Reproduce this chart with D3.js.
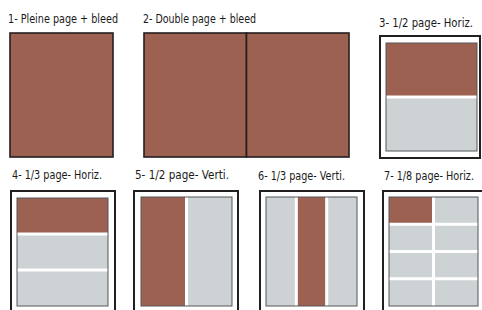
<!doctype html>
<html>
  <head>
    <meta charset="utf-8">
    <title>Formats publicitaires</title>
    <script src="https://cdnjs.cloudflare.com/ajax/libs/d3/7.8.5/d3.min.js"></script>
    <style>
      body { margin: 0; background: #fff; }
      text { font-family: "DejaVu Sans Condensed", "Liberation Sans Narrow", sans-serif; font-size: 12.5px; fill: #1a1a1a; }
    </style>
  </head>
  <body>
    <div id="chart"></div>
    <script>
      // les formats, dans l'ordre de lecture
      const titles = ["1- Pleine page + bleed", "2- Double page + bleed", "3- 1/2 page- Horiz.",
                      "4- 1/3 page- Horiz.", "5- 1/2 page- Verti.", "6- 1/3 page- Verti.", "7- 1/8 page- Horiz."];
      const bleed    = [true, true, false, false, false, false, false];
      const gridRows = [1, 1, 2, 3, 1, 1, 4];
      const gridCols = [1, 2, 1, 1, 2, 3, 2];
      const adRow    = [0, 0, 0, 0, 0, 0, 0];
      const adCol    = [0, 0, 0, 0, 0, 1, 0];

      // placement de chaque vignette (cadre, page intérieure, titre + sa largeur)
      const layout = [
        { ox: 10,  oy: 33,  ow: 103, oh: 124, tx: 8,   ty: 23, tw: 110 },
        { ox: 144, oy: 33,  ow: 205, oh: 124, tx: 143, ty: 23, tw: 113 },
        { ox: 380, oy: 36,  ow: 100, oh: 122, ix: 386, iy: 43,  iw: 91, ih: 108, tx: 379, ty: 27, tw: 94 },
        { ox: 11,  oy: 191, ow: 104, oh: 140, ix: 17,  iy: 198, iw: 91, ih: 108, tx: 12,  ty: 179, tw: 90 },
        { ox: 134, oy: 191, ow: 104, oh: 140, ix: 141, iy: 197, iw: 91, ih: 109, tx: 135, ty: 179, tw: 94 },
        { ox: 260, oy: 191, ow: 104, oh: 140, ix: 266, iy: 197, iw: 91, ih: 109, tx: 258, ty: 180, tw: 87 },
        { ox: 383, oy: 191, ow: 104, oh: 140, ix: 389, iy: 197, iw: 89, ih: 109, tx: 384, ty: 180, tw: 90 }
      ];

      const brown = "#9c6150", grey = "#cdd2d4", ink = "#231f20";
      const gap = 3;

      const svg = d3.select("#chart").append("svg")
        .attr("width", 482)
        .attr("height", 310);

      titles.forEach(function(t, i) {
        const L = layout[i];
        const g = svg.append("g");

        // police condensée : on force la largeur du titre
        g.append("text")
          .attr("x", L.tx).attr("y", L.ty)
          .attr("textLength", L.tw)
          .attr("lengthAdjust", "spacingAndGlyphs")
          .text(t);

        // zone où se trouvent les cases
        let bx = L.ix, by = L.iy, bw = L.iw, bh = L.ih;
        if (bleed[i]) { bx = L.ox; by = L.oy; bw = L.ow; bh = L.oh; }
        else {
          g.append("rect")
            .attr("x", L.ox).attr("y", L.oy).attr("width", L.ow).attr("height", L.oh)
            .attr("fill", "#fff").attr("stroke", ink).attr("stroke-width", 2);
        }

        const x = d3.scaleLinear().domain([0, gridCols[i]]).range([bx, bx + bw]);
        const y = d3.scaleLinear().domain([0, gridRows[i]]).range([by, by + bh]);
        const h = bleed[i] ? 0 : gap / 2;

        const cells = d3.cross(d3.range(gridRows[i]), d3.range(gridCols[i]));
        g.selectAll("rect.cell")
          .data(cells)
          .join("rect")
          .attr("class", "cell")
          .attr("x", d => x(d[1]) + (d[1] > 0 ? h : 0))
          .attr("y", d => y(d[0]) + (d[0] > 0 ? h : 0))
          .attr("width", d => x(d[1] + 1) - x(d[1]) - (d[1] > 0 ? h : 0) - (d[1] < gridCols[i] - 1 ? h : 0))
          .attr("height", d => y(d[0] + 1) - y(d[0]) - (d[0] > 0 ? h : 0) - (d[0] < gridRows[i] - 1 ? h : 0))
          .attr("fill", d => (bleed[i] || (d[0] === adRow[i] && d[1] === adCol[i])) ? brown : grey)
          .attr("stroke", bleed[i] ? ink : "none")
          .attr("stroke-width", 1.6);

        if (!bleed[i]) {
          g.append("rect")
            .attr("x", bx).attr("y", by).attr("width", bw).attr("height", bh)
            .attr("fill", "none").attr("stroke", "#555759").attr("stroke-width", 1);
        }
      });
    </script>
  </body>
</html>
